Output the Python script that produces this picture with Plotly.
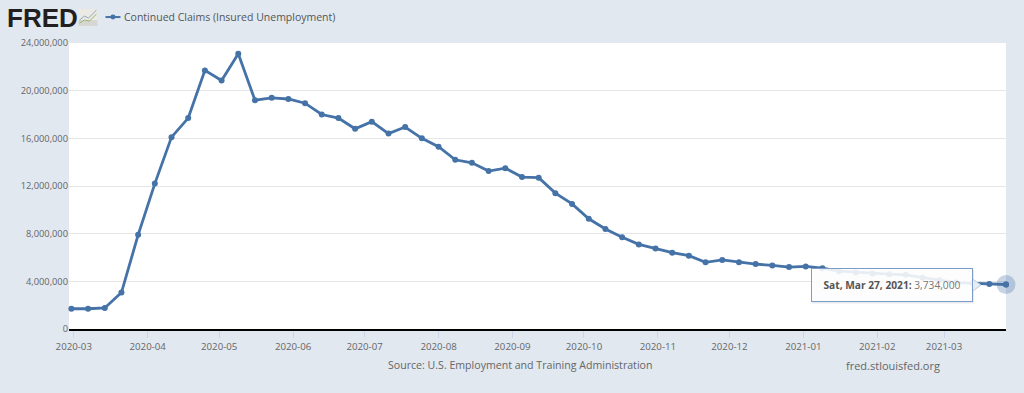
import plotly.graph_objects as go
import pandas as pd

series_name = "Continued Claims (Insured Unemployment)"
first_week = "2020-02-29"
claims = [1700000, 1700000, 1770000, 3060000, 7900000, 12200000, 16100000, 17700000, 21700000, 20850000,
          23100000, 19200000, 19400000, 19300000, 18950000, 18000000, 17700000, 16800000, 17400000, 16400000,
          16950000, 16000000, 15300000, 14200000, 13950000, 13250000, 13500000, 12750000, 12700000, 11400000,
          10500000, 9250000, 8400000, 7700000, 7100000, 6750000, 6400000, 6150000, 5600000, 5800000,
          5600000, 5450000, 5330000, 5200000, 5250000, 5100000, 4850000, 4750000, 4650000, 4600000,
          4550000, 4300000, 4100000, 3900000, 3850000, 3770000, 3734000]
weeks = pd.date_range(first_week, periods=len(claims), freq="7D")
y_ticks = [0, 4000000, 8000000, 12000000, 16000000, 20000000, 24000000]
source_text = "Source: U.S. Employment and Training Administration"
site_text = "fred.stlouisfed.org"
tooltip_date = "Sat, Mar 27, 2021:"
tooltip_value = "3,734,000"

W, H = 1024, 393
L, R, T, B = 68.5, 18, 43, 63.5
BLUE = "#4572a7"
FONT = "Open Sans"
GREY = "#666666"

def px(x): return (x - L) / (W - L - R)
def py(y): return 1 - (y - T) / (H - T - B)

fig = go.Figure()
fig.add_trace(go.Scatter(x=weeks, y=claims, mode="lines+markers", name=series_name, showlegend=False,
                         line=dict(color=BLUE, width=2.8), marker=dict(color=BLUE, size=6),
                         cliponaxis=False))
fig.add_trace(go.Scatter(x=weeks[-1:], y=claims[-1:], mode="markers", showlegend=False,
                         marker=dict(color=BLUE, size=19, opacity=0.3), cliponaxis=False))
fig.add_trace(go.Scatter(x=weeks[-1:], y=claims[-1:], mode="markers", showlegend=False,
                         marker=dict(color=BLUE, size=6), cliponaxis=False))

def paper_shape(**kw):
    return dict(xref="paper", yref="paper", **kw)

shapes = [
    # logo chart icon
    paper_shape(type="rect", x0=px(78), x1=px(97), y0=py(9), y1=py(26), fillcolor="#eceae4",
                line=dict(width=0), layer="above"),
    paper_shape(type="rect", x0=px(78), x1=px(97), y0=py(20), y1=py(26), fillcolor="#d6d6d2",
                line=dict(width=0), layer="above"),
    paper_shape(type="path", path=f"M {px(79)} {py(20)} L {px(84)} {py(16)} L {px(88)} {py(18)} L {px(96)} {py(10)}",
                line=dict(color="#8fa6c4", width=1), layer="above"),
    paper_shape(type="path", path=f"M {px(79)} {py(23)} L {px(84)} {py(20)} L {px(89)} {py(21)} L {px(96)} {py(14)}",
                line=dict(color="#9ab56a", width=1), layer="above"),
    # legend key
    paper_shape(type="line", x0=px(105), x1=px(120), y0=py(17), y1=py(17), line=dict(color=BLUE, width=2), layer="above"),
    paper_shape(type="circle", x0=px(110), x1=px(115), y0=py(14.5), y1=py(19.5), fillcolor=BLUE,
                line=dict(width=0), layer="above"),
    # tooltip shadow and pointer
    paper_shape(type="rect", x0=px(812), x1=px(974), y0=py(270), y1=py(304), fillcolor="rgba(70,90,120,0.12)",
                line=dict(width=0), layer="above"),
    paper_shape(type="path", path=f"M {px(972)} {py(279)} L {px(981)} {py(285.5)} L {px(972)} {py(292)} Z",
                fillcolor="#e6edf5", line=dict(color="#b8cbe0", width=1), layer="above"),
]

annotations = [
    dict(x=px(4), y=py(17.5), text="<b>FRED</b>", xanchor="left", yanchor="middle",
         font=dict(family="Liberation Sans", size=26, color="#231f20")),
    dict(x=px(122), y=py(17), text=series_name, xanchor="left", yanchor="middle",
         font=dict(family=FONT, size=10.5, color="#555555")),
    dict(x=px(520), y=py(366), text=source_text, xanchor="center", yanchor="middle",
         font=dict(family=FONT, size=10.6, color=GREY)),
    dict(x=px(893), y=py(366), text=site_text, xanchor="center", yanchor="middle",
         font=dict(family=FONT, size=11, color=GREY)),
    dict(x=px(892), y=py(285.5), xanchor="center", yanchor="middle", width=160, height=32,
         text=f"<b>{tooltip_date}</b> <span style='color:#777777'>{tooltip_value}</span>",
         align="center", valign="middle",
         bgcolor="rgba(255,255,255,0.88)", bordercolor="#7a9cc6", borderwidth=1, borderpad=0,
         font=dict(family=FONT, size=10.2, color="#555555")),
]
for a in annotations:
    a.update(xref="paper", yref="paper", showarrow=False)

fig.update_layout(
    width=W, height=H, autosize=False,
    margin=dict(l=L, r=R, t=T, b=B, autoexpand=False),
    paper_bgcolor="#e1e8f0", plot_bgcolor="#ffffff",
    font=dict(family=FONT, size=11, color=GREY),
    shapes=shapes, annotations=annotations, hovermode=False, showlegend=False,
    xaxis=dict(range=["2020-02-28", "2021-03-27"], tick0="2020-03-01", dtick="M1", tickformat="%Y-%m",
               ticks="outside", ticklen=7, tickcolor="#ccd6eb", tickfont=dict(family=FONT, size=9.7, color=GREY),
               showgrid=False, showline=True, linecolor="#000000", linewidth=2, zeroline=False),
    yaxis=dict(range=[0, 24000000], tickvals=y_ticks, tickformat=",d", ticks="", showline=False,
               gridcolor="#e6e6e6", gridwidth=1, zeroline=False, tickfont=dict(family=FONT, size=9.3, color=GREY)),
)
fig.write_html("out.html", config=dict(displayModeBar=False),
               post_script="document.body.style.margin='0';document.body.style.background='#e1e8f0';")
